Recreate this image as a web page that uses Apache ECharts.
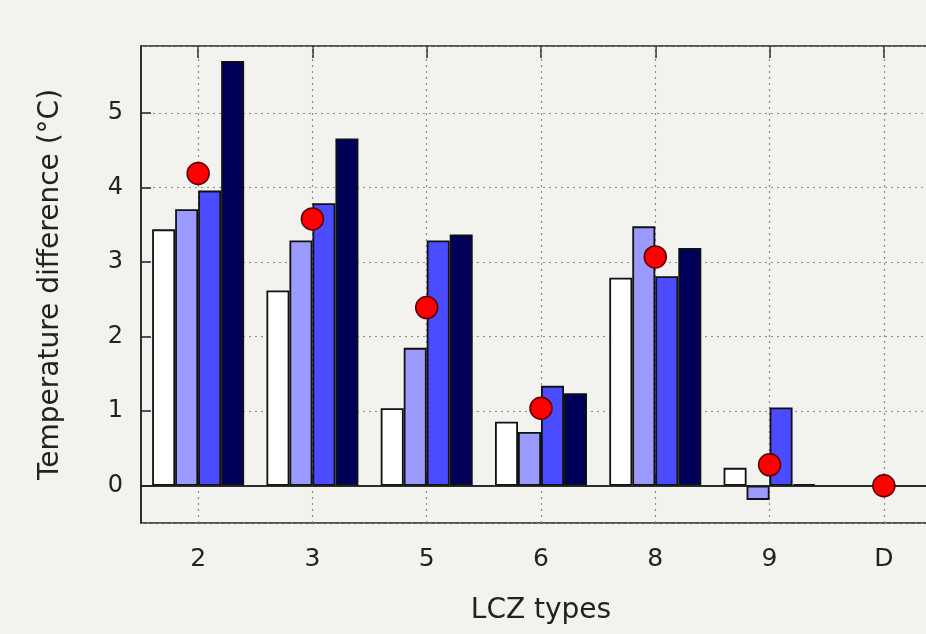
<!DOCTYPE html>
<html lang="en">
<head>
	<meta charset="utf-8">
	<title>LCZ temperature difference</title>
	<script src="https://cdn.jsdelivr.net/npm/echarts@6/dist/echarts.min.js"></script>
</head>
<body style="margin: 0; background: #f2f2ef; overflow: hidden">
<div id="container" style="width: 960px; height: 634px"></div>
<script type="text/javascript">

	// LCZ types on the x axis
	var categories = ['2', '3', '5', '6', '8', '9', 'D'];

	// four bar series (white, light blue, blue, navy), no bars for D
	var whiteBars  = [3.44, 2.62, 1.04, 0.86, 2.79, 0.24, null];
	var lightBars  = [3.71, 3.29, 1.85, 0.72, 3.48, -0.19, null];
	var mediumBars = [3.96, 3.79, 3.29, 1.34, 2.81, 1.05, null];
	var darkBars   = [5.70, 4.66, 3.37, 1.24, 3.19, 0.02, null];

	// red dots
	var dotValues = [4.19, 3.58, 2.39, 1.04, 3.07, 0.28, 0.00];

	var font = 'DejaVu Sans';
	var edge = '#222';

	function barSeries(name, values, color) {
		return {
			name: name,
			type: 'bar',
			data: values,
			barWidth: 23,
			barGap: '0%',
			itemStyle: { color: color, borderColor: '#111', borderWidth: 1.8 }
		};
	}

	var series = [
		barSeries('a', whiteBars, '#ffffff'),
		barSeries('b', lightBars, '#9a9aff'),
		barSeries('c', mediumBars, '#4b4bff'),
		barSeries('d', darkBars, '#00005a'),
		{
			name: 'dots',
			type: 'scatter',
			data: dotValues,
			z: 5,
			symbol: 'circle',
			symbolSize: 22,
			itemStyle: { color: '#ff0000', borderColor: '#5a0000', borderWidth: 1.5, opacity: 1 },
			// dotted vertical grid lines at the category centres, behind the bars
			markLine: {
				z: 1,
				silent: true,
				symbol: 'none',
				label: { show: false },
				lineStyle: { color: '#8a8a8a', type: [2, 4], width: 1.2 },
				data: categories.map(function (c, i) { return { xAxis: i }; })
			}
		}
	];

	// solid zero line
	series[3].markLine = {
		silent: true,
		symbol: 'none',
		label: { show: false },
		lineStyle: { color: edge, type: 'solid', width: 1.5 },
		data: [{ yAxis: 0 }]
	};

	var dom = document.getElementById('container');
	var myChart = echarts.init(dom, null, { renderer: 'canvas' });

	var option = {
		backgroundColor: '#f2f2ef',
		animation: false,
		grid: {
			left: 141, right: 19, top: 46, bottom: 111,
			show: true,
			borderColor: edge,
			borderWidth: 1.5,
			outerBoundsMode: 'none'
		},
		xAxis: [
			{
				type: 'category',
				data: categories,
				position: 'bottom',
				name: 'LCZ types',
				nameLocation: 'middle',
				nameGap: 74,
				nameTextStyle: { fontFamily: font, fontSize: 28, color: '#222' },
				axisLine: { show: true, lineStyle: { color: edge, width: 1.5 } },
				axisTick: { show: true, inside: true, alignWithLabel: true, length: 12, lineStyle: { color: edge, width: 1.5 } },
				axisLabel: { fontFamily: font, fontSize: 25, color: '#222', margin: 24 },
				splitLine: { show: false }
			},
			{
				type: 'category',
				data: categories,
				position: 'top',
				axisLine: { show: false },
				axisTick: { show: true, inside: true, alignWithLabel: true, length: 12, lineStyle: { color: edge, width: 1.5 } },
				axisLabel: { show: false },
				splitLine: { show: false }
			}
		],
		yAxis: {
			type: 'value',
			min: -0.5,
			max: 5.9,
			name: 'Temperature difference (°C)',
			nameLocation: 'middle',
			nameGap: 76,
			nameTextStyle: { fontFamily: font, fontSize: 28, color: '#222' },
			axisLine: { show: true, lineStyle: { color: edge, width: 1.5 } },
			axisTick: { show: true, inside: true, length: 10, lineStyle: { color: edge, width: 1.5 } },
			axisLabel: {
				fontFamily: font, fontSize: 24, color: '#222', margin: 18,
				showMinLabel: false, showMaxLabel: false
			},
			splitLine: { show: true, lineStyle: { color: '#8a8a8a', type: [2, 4], width: 1.2 } }
		},
		series: series
	};

	myChart.setOption(option);

</script>
</body>
</html>
